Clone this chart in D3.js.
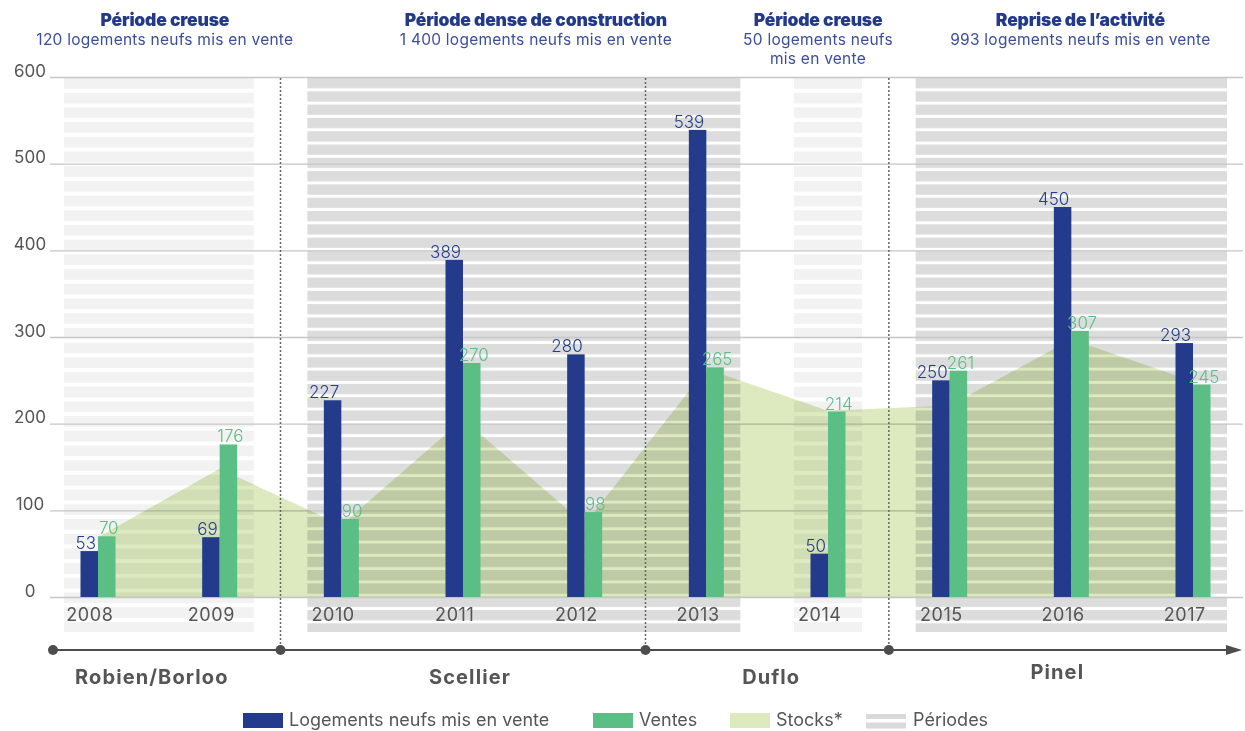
<!DOCTYPE html>
<html lang="fr">
<head>
<meta charset="utf-8">
<script src="https://cdn.jsdelivr.net/npm/d3@7"></script>
<style>
  html, body { margin: 0; padding: 0; background: #ffffff; }
  svg { display: block; font-family: "Inter", "Noto Sans", sans-serif; }
</style>
</head>
<body>
<svg id="chart" width="1245" height="731"></svg>
<script>
// ---- Data ----
const years = ["2008", "2009", "2010", "2011", "2012", "2013", "2014", "2015", "2016", "2017"];
const logements = [53, 69, 227, 389, 280, 539, 50, 250, 450, 293];
const ventes = [70, 176, 90, 270, 98, 265, 214, 261, 307, 245];
const stocks = [69, 148, 83, 205, 84, 263, 215, 221, 297, 249];
const yTicks = [0, 100, 200, 300, 400, 500, 600];

// Market periods (shaded panels with headers)
const periodTitles = ["Période creuse", "Période dense de construction", "Période creuse", "Reprise de l’activité"];
const periodSubtitles = [
  ["120 logements neufs mis en vente"],
  ["1 400 logements neufs mis en vente"],
  ["50 logements neufs", "mis en vente"],
  ["993 logements neufs mis en vente"]
];
const periodFirst = ["2008", "2010", "2014", "2015"];
const periodLast = ["2009", "2013", "2014", "2017"];
const periodTone = ["light", "dark", "light", "dark"];

// Tax-incentive schemes along the timeline
const policies = ["Robien/Borloo", "Scellier", "Duflo", "Pinel"];
const policyFirst = ["2008", "2010", "2013", "2015"];
const policyLast = ["2009", "2012", "2014", "2017"];

const legendLabels = ["Logements neufs mis en vente", "Ventes", "Stocks*", "Périodes"];

// ---- Styles ----
const C = {
  blue: "#243b8c",
  green: "#5bbe85",
  stock: "#dde9bf",
  light: "#f2f2f2",
  dark: "#dcdcdc",
  grid: "#c6c6c6",
  text: "#555555",
  title: "#233a8b",
  subtitle: "#3b4e9c",
  line: "#4d4d4d"
};

const svg = d3.select("#chart");
const x = d3.scalePoint().domain(years).range([98, 1193]);
const y = d3.scaleLinear().domain([0, 600]).range([597, 77]);
const barW = 17.5;
const panelPad = 34;
const panelTop = 78, panelBottom = 632;
const timelineY = 650;
const gridLeft = 50, gridRight = 1243;

// Striped fills for the period panels
const defs = svg.append("defs");
function stripes(id, base, h, white, y0) {
  const p = defs.append("pattern")
    .attr("id", id).attr("patternUnits", "userSpaceOnUse")
    .attr("width", 20).attr("height", h).attr("y", y0);
  p.append("rect").attr("width", 20).attr("height", h).attr("fill", base);
  p.append("rect").attr("y", h - white).attr("width", 20).attr("height", white).attr("fill", "#ffffff");
}
stripes("stripe-light", C.light, 14.7, 4, panelTop);
stripes("stripe-dark", C.dark, 13.3, 3, panelTop);

// Period panels
const periods = periodTitles.map((t, i) => ({
  title: t, sub: periodSubtitles[i],
  x0: x(periodFirst[i]) - panelPad, x1: x(periodLast[i]) + panelPad,
  tone: periodTone[i]
}));
svg.append("g").selectAll("rect").data(periods).join("rect")
  .attr("x", d => d.x0).attr("y", panelTop)
  .attr("width", d => d.x1 - d.x0).attr("height", panelBottom - panelTop)
  .attr("fill", d => d.tone === "light" ? "url(#stripe-light)" : "url(#stripe-dark)");

// Period headers
const headerShift = [6, 12, -10, 9];
const headers = svg.append("g").selectAll("g").data(periods).join("g")
  .attr("transform", (d, i) => `translate(${(d.x0 + d.x1) / 2 + headerShift[i]},0)`);
headers.append("text")
  .attr("y", 26).attr("text-anchor", "middle")
  .attr("font-size", 17.5).attr("font-weight", 900).attr("fill", C.title)
  .attr("letter-spacing", -0.2)
  .text(d => d.title);
headers.each(function (d) {
  d3.select(this).selectAll("text.sub").data(d.sub).join("text")
    .attr("class", "sub")
    .attr("y", (s, j) => 45 + j * 18.5).attr("text-anchor", "middle")
    .attr("font-size", 15.5).attr("fill", C.subtitle)
    .attr("letter-spacing", 0.25)
    .text(s => s);
});

// Y gridlines and tick labels
const yAxis = svg.append("g")
  .attr("transform", `translate(${gridLeft},0)`)
  .call(d3.axisLeft(y).tickValues(yTicks).tickSize(-(gridRight - gridLeft)).tickFormat(d3.format("d")));
yAxis.select(".domain").remove();
yAxis.selectAll(".tick line").attr("stroke", C.grid).attr("stroke-width", 1.3);
yAxis.selectAll(".tick text")
  .attr("x", -20).attr("dy", -1).attr("text-anchor", "middle")
  .attr("font-size", 17).attr("fill", C.text).attr("font-family", "Inter, sans-serif");

// Stocks area, multiplied onto the striped panels
const area = d3.area()
  .x((d, i) => x(years[i]))
  .y0(y(0))
  .y1(d => y(d));
svg.append("path")
  .datum(stocks)
  .attr("d", area)
  .attr("fill", C.stock)
  .style("mix-blend-mode", "multiply");

// Policy change dividers
const dividers = policyFirst.slice(1).map((yr, i) => (x(policyLast[i]) + x(yr)) / 2);
svg.append("g").selectAll("line").data(dividers).join("line")
  .attr("x1", d => d).attr("x2", d => d)
  .attr("y1", panelTop).attr("y2", timelineY)
  .attr("stroke", "#666").attr("stroke-width", 1.5).attr("stroke-dasharray", "2,2");

// Bars
const bars = svg.append("g");
bars.selectAll("rect.log").data(logements).join("rect")
  .attr("class", "log")
  .attr("x", (d, i) => x(years[i]) - barW).attr("y", d => y(d))
  .attr("width", barW).attr("height", d => y(0) - y(d))
  .attr("fill", C.blue);
bars.selectAll("rect.ven").data(ventes).join("rect")
  .attr("class", "ven")
  .attr("x", (d, i) => x(years[i])).attr("y", d => y(d))
  .attr("width", barW).attr("height", d => y(0) - y(d))
  .attr("fill", C.green);

// Value labels
const labels = svg.append("g").attr("font-size", 17).attr("font-weight", 300);
labels.selectAll("text.log").data(logements).join("text")
  .attr("class", "log")
  .attr("x", (d, i) => x(years[i]) - 2).attr("y", d => y(d) - 2)
  .attr("text-anchor", "end").attr("fill", C.blue)
  .text(d => d);
labels.selectAll("text.ven").data(ventes).join("text")
  .attr("class", "ven")
  .attr("x", (d, i) => x(years[i]) + barW / 2 + 2).attr("y", d => y(d) - 2)
  .attr("text-anchor", "middle").attr("fill", C.green)
  .text(d => d);

// Year labels
const xAxis = svg.append("g")
  .attr("transform", `translate(0,${y(0)})`)
  .call(d3.axisBottom(x).tickSize(0));
xAxis.select(".domain").remove();
xAxis.selectAll(".tick text")
  .attr("x", -barW / 2).attr("y", 24).attr("dy", 0)
  .attr("font-size", 18).attr("letter-spacing", 0.6).attr("fill", C.text)
  .attr("font-family", "Inter, sans-serif");

// Timeline with scheme milestones
const tl = svg.append("g");
const tlStart = 53, tlEnd = 1242;
tl.append("line")
  .attr("x1", tlStart).attr("x2", tlEnd - 14)
  .attr("y1", timelineY).attr("y2", timelineY)
  .attr("stroke", C.line).attr("stroke-width", 2);
tl.append("path")
  .attr("d", `M${tlEnd},${timelineY} L${tlEnd - 16},${timelineY - 5} L${tlEnd - 16},${timelineY + 5} Z`)
  .attr("fill", C.line);
tl.selectAll("circle").data([tlStart].concat(dividers)).join("circle")
  .attr("cx", d => d).attr("cy", timelineY).attr("r", 5)
  .attr("fill", C.line);
const policyShift = [-7, 7, 4, -14];
const policyDy = [0, 0, 0, -5];
tl.selectAll("text").data(policies).join("text")
  .attr("x", (d, i) => (x(policyFirst[i]) + x(policyLast[i])) / 2 + policyShift[i])
  .attr("y", (d, i) => 684 + policyDy[i])
  .attr("text-anchor", "middle")
  .attr("font-size", 20).attr("font-weight", 700).attr("letter-spacing", 1.1)
  .attr("fill", C.text)
  .text(d => d);

// Legend
const legendX = [243, 593, 730, 866];
const lg = svg.append("g").attr("transform", "translate(0,713)");
const items = lg.selectAll("g").data(legendLabels).join("g")
  .attr("transform", (d, i) => `translate(${legendX[i]},0)`);
items.each(function (d, i) {
  const g = d3.select(this);
  if (i < 3) {
    g.append("rect").attr("width", 40).attr("height", 15)
      .attr("fill", [C.blue, C.green, C.stock][i]);
  } else {
    g.append("rect").attr("y", 1).attr("width", 40).attr("height", 5).attr("fill", "#d9d9d9");
    g.append("rect").attr("y", 9.5).attr("width", 40).attr("height", 6).attr("fill", "#d9d9d9");
  }
  g.append("text").attr("x", i === 3 ? 47 : 46).attr("y", 13)
    .attr("font-size", 18).attr("fill", C.text)
    .text(d);
});
</script>
</body>
</html>
